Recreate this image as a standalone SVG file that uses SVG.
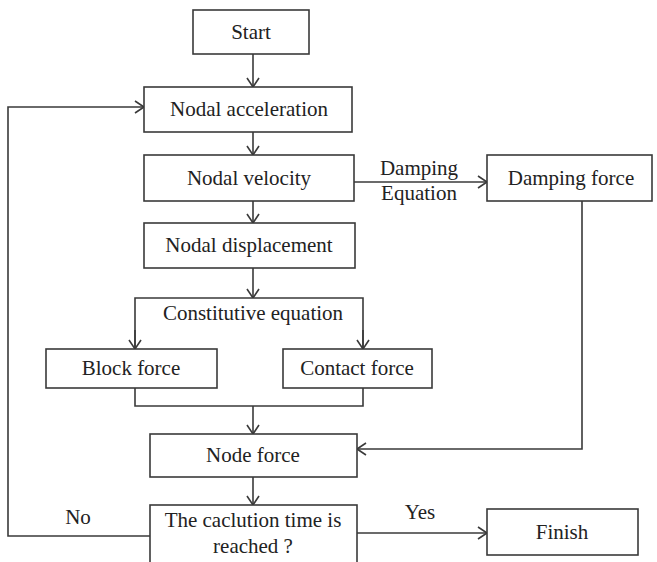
<svg xmlns="http://www.w3.org/2000/svg" width="657" height="562" viewBox="0 0 657 562">
<style>
.box{fill:#fff;stroke:#3a3a3a;stroke-width:1.6}
.ln{fill:none;stroke:#3a3a3a;stroke-width:1.6}
text{font-family:"Liberation Serif","Times New Roman",serif;font-size:21px;fill:#222;text-anchor:middle}
</style>
<defs>
<marker id="ah" viewBox="0 0 10 14" refX="10" refY="7" markerWidth="10" markerHeight="14" markerUnits="userSpaceOnUse" orient="auto">
<path d="M1,1 L10,7 L1,13" fill="none" stroke="#3a3a3a" stroke-width="1.6"/>
</marker>
</defs>
<rect width="657" height="562" fill="#fff"/>
<g id="connectors">
<line class="ln" x1="253" y1="54" x2="253" y2="87" marker-end="url(#ah)"/>
<line class="ln" x1="253" y1="132" x2="253" y2="155" marker-end="url(#ah)"/>
<line class="ln" x1="253" y1="201" x2="253" y2="223" marker-end="url(#ah)"/>
<line class="ln" x1="253" y1="268" x2="253" y2="298" marker-end="url(#ah)"/>
<polyline class="ln" points="135,349 135,298 363,298 363,349"/>
<line class="ln" x1="135" y1="330" x2="135" y2="349" marker-end="url(#ah)"/>
<line class="ln" x1="363" y1="330" x2="363" y2="349" marker-end="url(#ah)"/>
<polyline class="ln" points="135,388 135,406 363,406 363,388"/>
<line class="ln" x1="253" y1="406" x2="253" y2="434" marker-end="url(#ah)"/>
<line class="ln" x1="354" y1="182" x2="487" y2="182" marker-end="url(#ah)"/>
<polyline class="ln" points="582,201 582,449 357,449" marker-end="url(#ah)"/>
<line class="ln" x1="253" y1="477" x2="253" y2="505" marker-end="url(#ah)"/>
<line class="ln" x1="357" y1="533" x2="487" y2="533" marker-end="url(#ah)"/>
<polyline class="ln" points="150,536 8,536 8,107 144,107" marker-end="url(#ah)"/>
<text x="419" y="175">Damping</text>
<text x="419" y="200">Equation</text>
<text x="253" y="320">Constitutive equation</text>
<text x="420" y="519">Yes</text>
<text x="78" y="524">No</text>
</g>
<g id="start"><rect class="box" x="193" y="10" width="116" height="44"/><text x="251" y="39">Start</text></g>
<g id="accel"><rect class="box" x="144" y="87" width="208" height="45"/><text x="249" y="116">Nodal acceleration</text></g>
<g id="velocity"><rect class="box" x="144" y="155" width="210" height="46"/><text x="249" y="185">Nodal velocity</text></g>
<g id="damping"><rect class="box" x="487" y="155" width="165" height="46"/><text x="571" y="185">Damping force</text></g>
<g id="displacement"><rect class="box" x="144" y="223" width="211" height="45"/><text x="249" y="252">Nodal displacement</text></g>
<g id="block"><rect class="box" x="46" y="349" width="171" height="39"/><text x="131" y="375">Block force</text></g>
<g id="contact"><rect class="box" x="283" y="349" width="149" height="39"/><text x="357" y="375">Contact force</text></g>
<g id="nodeforce"><rect class="box" x="150" y="434" width="207" height="43"/><text x="253" y="462">Node  force</text></g>
<g id="decision"><rect class="box" x="150" y="505" width="207" height="60"/><text x="253" y="527">The caclution time is</text><text x="253" y="553">reached ?</text></g>
<g id="finish"><rect class="box" x="487" y="509" width="151" height="46"/><text x="562" y="539">Finish</text></g>
</svg>
